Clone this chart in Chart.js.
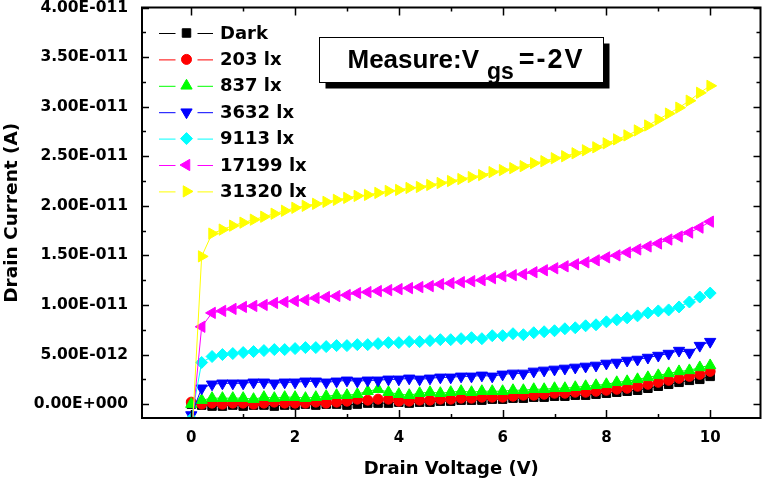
<!DOCTYPE html>
<html>
<head>
<meta charset="utf-8">
<script src="https://cdn.jsdelivr.net/npm/chart.js"></script>
<style>
  html, body { margin: 0; padding: 0; background: #fff; }
  canvas { display: block; }
</style>
</head>
<body>
<canvas id="chart" width="768" height="487"></canvas>
<script>
// drain voltage sweep (V)
const voltage = [0, 0.2, 0.4, 0.6, 0.8, 1, 1.2, 1.4, 1.6, 1.8, 2, 2.2, 2.4, 2.6, 2.8, 3, 3.2, 3.4, 3.6, 3.8,
  4, 4.2, 4.4, 4.6, 4.8, 5, 5.2, 5.4, 5.6, 5.8, 6, 6.2, 6.4, 6.6, 6.8, 7, 7.2, 7.4, 7.6, 7.8,
  8, 8.2, 8.4, 8.6, 8.8, 9, 9.2, 9.4, 9.6, 9.8, 10];

// drain current for each illuminance, in pA
const dark = [0.0, -0.1, -0.2, -0.2, -0.1, -0.2, -0.1, -0.1, -0.2, -0.1, -0.1, 0.0, -0.1, 0.0, 0.0, -0.1, 0.0, 0.1, 0.1, 0.1,
  0.2, 0.1, 0.2, 0.2, 0.3, 0.3, 0.4, 0.4, 0.4, 0.5, 0.5, 0.6, 0.6, 0.7, 0.7, 0.8, 0.8, 0.9, 0.9, 1.0,
  1.1, 1.2, 1.3, 1.4, 1.6, 1.8, 2.0, 2.2, 2.4, 2.5, 2.8];
const lx203 = [0.2, 0.0, 0.1, 0.0, 0.1, 0.1, 0.0, 0.1, 0.2, 0.1, 0.1, 0.1, 0.2, 0.1, 0.2, 0.3, 0.5, 0.4, 0.5, 0.5,
  0.3, 0.3, 0.4, 0.4, 0.5, 0.5, 0.6, 0.6, 0.7, 0.7, 0.7, 0.8, 0.9, 0.9, 1.0, 1.1, 1.1, 1.2, 1.2, 1.3,
  1.4, 1.5, 1.6, 1.8, 2.0, 2.2, 2.4, 2.6, 2.8, 3.0, 3.3];
const lx837 = [0.0, 0.4, 0.6, 0.6, 0.6, 0.6, 0.5, 0.7, 0.6, 0.7, 0.7, 0.6, 0.7, 0.8, 0.9, 0.9, 1.0, 1.3, 1.5, 1.2,
  1.0, 0.9, 1.1, 1.2, 1.1, 1.2, 1.3, 1.2, 1.3, 1.3, 1.3, 1.4, 1.4, 1.5, 1.5, 1.6, 1.6, 1.7, 1.8, 1.9,
  2.0, 2.2, 2.3, 2.5, 2.7, 2.9, 3.1, 3.3, 3.4, 3.7, 3.9];
const lx3632 = [-1.1, 1.6, 2.0, 2.1, 2.1, 2.1, 2.2, 2.2, 2.1, 2.2, 2.2, 2.3, 2.3, 2.2, 2.3, 2.4, 2.3, 2.4, 2.4, 2.5,
  2.5, 2.6, 2.5, 2.6, 2.7, 2.7, 2.8, 2.8, 2.9, 2.8, 3.0, 3.1, 3.1, 3.3, 3.4, 3.5, 3.6, 3.7, 3.8, 3.9,
  4.1, 4.2, 4.4, 4.5, 4.7, 4.9, 5.1, 5.4, 5.2, 5.9, 6.3];
const lx9113 = [-1.5, 4.2, 4.8, 5.0, 5.1, 5.2, 5.3, 5.4, 5.5, 5.5, 5.6, 5.7, 5.7, 5.8, 5.9, 5.9, 6.0, 6.0, 6.1, 6.2,
  6.2, 6.3, 6.3, 6.4, 6.5, 6.5, 6.6, 6.7, 6.6, 6.9, 6.9, 7.1, 7.0, 7.2, 7.3, 7.4, 7.6, 7.7, 7.9, 8.0,
  8.3, 8.5, 8.7, 8.9, 9.2, 9.4, 9.5, 9.8, 10.3, 10.8, 11.2];
const lx17199 = [-3.0, 7.8, 9.2, 9.4, 9.6, 9.8, 9.9, 10.0, 10.2, 10.3, 10.4, 10.5, 10.7, 10.8, 10.9, 11.0, 11.2, 11.3, 11.4, 11.5,
  11.6, 11.7, 11.8, 11.9, 12.1, 12.2, 12.3, 12.4, 12.5, 12.7, 12.9, 13.0, 13.1, 13.3, 13.5, 13.7, 13.9, 14.1, 14.3, 14.5,
  14.8, 15.0, 15.3, 15.6, 15.9, 16.2, 16.6, 16.9, 17.3, 17.8, 18.4];
const lx31320 = [-4.5, 14.9, 17.2, 17.6, 18.0, 18.3, 18.6, 18.9, 19.2, 19.5, 19.8, 20.0, 20.2, 20.4, 20.6, 20.8, 21.0, 21.1, 21.3, 21.5,
  21.6, 21.8, 21.9, 22.1, 22.3, 22.5, 22.7, 22.9, 23.1, 23.4, 23.6, 23.8, 24.0, 24.3, 24.5, 24.8, 25.0, 25.3, 25.6, 25.9,
  26.3, 26.7, 27.1, 27.6, 28.1, 28.7, 29.3, 29.9, 30.6, 31.4, 32.1];

const seriesNames = ['Dark', '203 lx', '837 lx', '3632 lx', '9113 lx', '17199 lx', '31320 lx'];
const seriesValues = [dark, lx203, lx837, lx3632, lx9113, lx17199, lx31320];
const seriesColors = ['#000000', '#ff0000', '#00ff00', '#0000ff', '#00ffff', '#ff00ff', '#ffff00'];
const seriesShapes = [
  { style: 'rect', rotation: 0, radius: 6 },
  { style: 'circle', rotation: 0, radius: 5 },
  { style: 'triangle', rotation: 0, radius: 6.5 },
  { style: 'triangle', rotation: 180, radius: 6.5 },
  { style: 'rectRot', rotation: 0, radius: 6 },
  { style: 'triangle', rotation: 270, radius: 6.5 },
  { style: 'triangle', rotation: 90, radius: 6.5 }
];

// axis ticks (current ticks in pA)
const xTicks = [0, 2, 4, 6, 8, 10];
const xMinorTicks = [1, 3, 5, 7, 9];
const yTicks = [0, 5, 10, 15, 20, 25, 30, 35, 40];
const yTickLabels = ['0.00E+000', '5.00E-012', '1.00E-011', '1.50E-011', '2.00E-011',
  '2.50E-011', '3.00E-011', '3.50E-011', '4.00E-011'];
const yMinorTicks = [2.5, 7.5, 12.5, 17.5, 22.5, 27.5, 32.5, 37.5];

const FONT = '"DejaVu Sans", "Liberation Sans", Arial, sans-serif';

// inward ticks on all four sides plus the box frame
const framePlugin = {
  id: 'frame',
  afterDatasetsDraw(chart) {
    const { ctx, chartArea: a, scales: { x, y } } = chart;
    ctx.save();
    ctx.strokeStyle = '#000';
    ctx.lineWidth = 1.5;
    ctx.beginPath();
    const xt = (vals, len) => vals.forEach(v => {
      const px = Math.round(x.getPixelForValue(v)) + 0.5;
      ctx.moveTo(px, a.bottom); ctx.lineTo(px, a.bottom - len);
      ctx.moveTo(px, a.top); ctx.lineTo(px, a.top + len);
    });
    const yt = (vals, len) => vals.forEach(v => {
      const py = Math.round(y.getPixelForValue(v)) + 0.5;
      ctx.moveTo(a.left, py); ctx.lineTo(a.left + len, py);
      ctx.moveTo(a.right, py); ctx.lineTo(a.right - len, py);
    });
    xt(xTicks, 8); xt(xMinorTicks, 4);
    yt(yTicks, 7); yt(yMinorTicks, 4);
    ctx.stroke();
    ctx.lineWidth = 2;
    ctx.strokeRect(a.left, a.top, a.right - a.left, a.bottom - a.top);
    ctx.restore();
  }
};

// legend inside the plot, top-left
const legendPlugin = {
  id: 'insideLegend',
  afterDraw(chart) {
    const { ctx, chartArea: a } = chart;
    ctx.save();
    ctx.font = 'bold 18px ' + FONT;
    ctx.textBaseline = 'middle';
    chart.data.datasets.forEach((ds, i) => {
      const yy = a.top + 25.5 + i * 26.4;
      const x0 = a.left + 17, xm = a.left + 44.5, x1 = a.left + 71;
      ctx.strokeStyle = ds.borderColor;
      ctx.lineWidth = 1;
      ctx.beginPath();
      ctx.moveTo(x0, yy + 0.5); ctx.lineTo(xm - 11, yy + 0.5);
      ctx.moveTo(xm + 11, yy + 0.5); ctx.lineTo(x1, yy + 0.5);
      ctx.stroke();
      ctx.fillStyle = ds.backgroundColor;
      Chart.helpers.drawPoint(ctx, {
        pointStyle: ds.pointStyle, rotation: ds.pointRotation,
        radius: ds.pointRadius, borderWidth: 1
      }, xm, yy);
      ctx.fillStyle = '#000';
      ctx.fillText(ds.label, a.left + 78, yy + 1);
    });
    ctx.restore();
  }
};

// boxed note with drop shadow, placed in data coordinates
const noteBox = { x0: 2.46, x1: 7.93, y0: 32.45, y1: 37.0 };
const notePlugin = {
  id: 'note',
  afterDraw(chart) {
    const { ctx, scales: { x, y } } = chart;
    const l = Math.round(x.getPixelForValue(noteBox.x0)) + 0.5;
    const r = Math.round(x.getPixelForValue(noteBox.x1)) + 0.5;
    const t = Math.round(y.getPixelForValue(noteBox.y1)) + 0.5;
    const b = Math.round(y.getPixelForValue(noteBox.y0)) + 0.5;
    ctx.save();
    ctx.fillStyle = '#000';
    ctx.fillRect(l + 6, t + 6, r - l, b - t);
    ctx.fillStyle = '#fff';
    ctx.fillRect(l, t, r - l, b - t);
    ctx.strokeStyle = '#000';
    ctx.lineWidth = 1;
    ctx.strokeRect(l, t, r - l, b - t);
    const big = 'bold 26px "Liberation Sans", Arial, sans-serif';
    const small = 'bold 23px "Liberation Sans", Arial, sans-serif';
    ctx.fillStyle = '#000';
    ctx.textBaseline = 'alphabetic';
    let tx = l + 28;
    const base = t + 30;
    ctx.font = big;
    ctx.fillText('Measure:V', tx, base);
    tx += ctx.measureText('Measure:V').width + 8;
    ctx.font = small;
    ctx.fillText('gs', tx, base + 11);
    tx += ctx.measureText('gs').width + 5;
    ctx.font = 'bold 27px "Liberation Sans", Arial, sans-serif';
    ctx.letterSpacing = '2px';
    ctx.fillText('=-2V', tx, base);
    ctx.restore();
  }
};

const datasets = seriesValues.map((vals, i) => ({
  label: seriesNames[i],
  data: voltage.map((v, k) => ({ x: v, y: vals[k] })),
  borderColor: seriesColors[i],
  backgroundColor: seriesColors[i],
  borderWidth: 1,
  pointStyle: seriesShapes[i].style,
  pointRotation: seriesShapes[i].rotation,
  pointRadius: seriesShapes[i].radius,
  pointBorderWidth: 1,
  pointBorderColor: seriesColors[i],
  pointBackgroundColor: seriesColors[i],
  tension: 0,
  clip: 0,
  order: seriesNames.length - i
}));

Chart.defaults.color = '#000';
Chart.defaults.font.family = FONT;

new Chart(document.getElementById('chart'), {
  type: 'line',
  data: { datasets },
  options: {
    responsive: false,
    animation: false,
    devicePixelRatio: 1,
    layout: { padding: { left: 0, right: 5, top: 7, bottom: 0 } },
    plugins: { legend: { display: false }, tooltip: { enabled: false } },
    scales: {
      x: {
        type: 'linear',
        min: -0.95,
        max: 10.97,
        afterBuildTicks: s => { s.ticks = xTicks.map(v => ({ value: v })); },
        afterFit: s => { s.height = 69; s.paddingLeft = 0; s.paddingRight = 0; },
        grid: { display: false, drawTicks: false },
        border: { display: false },
        ticks: {
          autoSkip: false, maxRotation: 0, padding: 11,
          font: { size: 15, weight: 'bold' },
          callback: (v, i) => String(xTicks[i])
        },
        title: {
          display: true, text: 'Drain Voltage (V)',
          font: { size: 18, weight: 'bold' },
          padding: { top: 0, bottom: 7 }
        }
      },
      y: {
        type: 'linear',
        min: -1.4,
        max: 40,
        afterBuildTicks: s => { s.ticks = yTicks.map(v => ({ value: v })); },
        afterFit: s => { s.width = 142; s.paddingTop = 0; s.paddingBottom = 0; },
        grid: { display: false, drawTicks: false },
        border: { display: false },
        ticks: {
          autoSkip: false, padding: 14,
          font: { size: 15.5, weight: 'bold' },
          callback: (v, i) => yTickLabels[i]
        },
        title: {
          display: true, text: 'Drain Current (A)',
          font: { size: 18.5, weight: 'bold' },
          padding: { top: 1, bottom: 0 }
        }
      }
    }
  },
  plugins: [framePlugin, notePlugin, legendPlugin]
});
</script>
</body>
</html>
